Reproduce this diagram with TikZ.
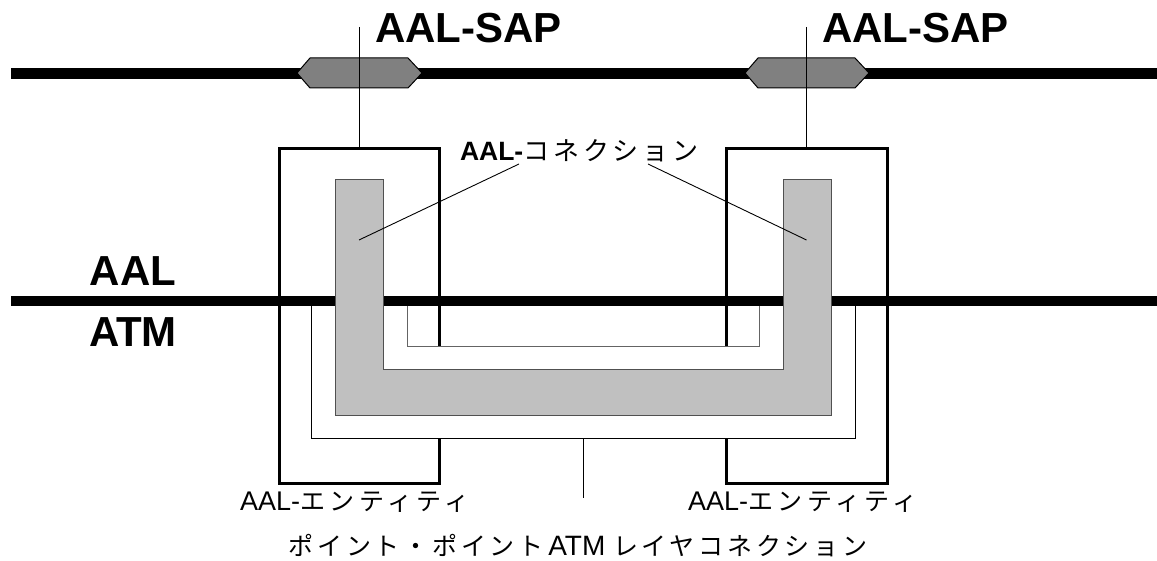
\documentclass[tikz,border=0pt]{standalone}
\usepackage{fontspec}
\setmainfont{Liberation Sans}
\newfontfamily\jpE[LetterSpace=18]{Noto Sans CJK JP}
\newfontfamily\jpC[LetterSpace=15]{Noto Sans CJK JP}
\newfontfamily\jpP[LetterSpace=15]{Noto Sans CJK JP}
\begin{document}
\begin{tikzpicture}[x=1pt,y=-1pt,
  layer/.style={line width=10.7pt},
  sapline/.style={line width=1pt},
  hexa/.style={fill={rgb,255:red,128;green,128;blue,128},draw=black,line width=1pt},
  entity/.style={draw=black,line width=3pt},
  conn/.style={fill={rgb,255:red,192;green,192;blue,192},draw={rgb,255:red,80;green,80;blue,80},line width=1pt},
  thin/.style={line width=1pt},
  leader/.style={line width=0.9pt},
  lbl/.style={inner sep=0pt,outer sep=0pt}]
\useasboundingbox (0,0) rectangle (1157,561);
% layer lines
\coordinate (t1) at (11,73.5); \coordinate (t2) at (1157,73.5);
\coordinate (m1) at (11,301); \coordinate (m2) at (1157,301);
\draw[layer] (t1) -- (t2);
\draw[layer] (m1) -- (m2);
% SAP hexagons
\draw[hexa] (297,73) -- (310,58) -- (408,58) -- (422,73) -- (408,88) -- (310,88) -- cycle;
\draw[hexa] (745,73) -- (758,58) -- (855,58) -- (869,73) -- (855,88) -- (758,88) -- cycle;
% entity boxes
\node[entity,lbl,minimum width=160.5pt,minimum height=334pt] (eL) at (359.25,316) {};
\node[entity,lbl,minimum width=160.5pt,minimum height=334pt] (eR) at (806.75,316) {};
% SAP lines
\coordinate (sL) at (359,27); \coordinate (sR) at (806.5,27);
\draw[sapline] (sL) -- (sL |- eL.north);
\draw[sapline] (sR) -- (sR |- eR.north);
% ATM layer connection (white U band)
\fill[white] (311.5,306.5) -- (311.5,438) -- (855,438) -- (855,306.5) -- (759,306.5) -- (759,346.5) -- (407,346.5) -- (407,306.5) -- cycle;
\draw[thin] (311.5,306.5) -- (311.5,438) -- (855,438) -- (855,306.5);
\draw[thin,draw={rgb,255:red,100;green,100;blue,100}] (407,306.5) -- (407,346.5) -- (759,346.5) -- (759,306.5);
% AAL connection (grey U)
\draw[conn] (335.5,180) -- (335.5,415.5) -- (831,415.5) -- (831,180) -- (783,180) -- (783,370) -- (383.5,370) -- (383.5,180) -- cycle;
% labels
\node[lbl,anchor=base west] (sapL) at (375,43) {\fontsize{42}{48}\selectfont\bfseries AAL-SAP};
\node[lbl,anchor=base west] (sapR) at (822,43) {\fontsize{42}{48}\selectfont\bfseries AAL-SAP};
\node[lbl,anchor=base] (aal) at (133,286) {\fontsize{42}{48}\selectfont\bfseries AAL};
\node[lbl,anchor=base] (atm) at (133,347) {\fontsize{42}{48}\selectfont\bfseries ATM};
\node[lbl,anchor=base west] (cn) at (460,160.7) {\fontsize{26.5}{30}\selectfont\bfseries AAL-{\jpC\mdseries\fontsize{26}{30}\selectfont コネクション}};
\node[lbl,anchor=base west] (enL) at (240,510) {\fontsize{27}{30}\selectfont AAL-{\jpE\fontsize{25}{30}\selectfont エンティティ}};
\node[lbl,anchor=base west] (enR) at (688,510) {\fontsize{27}{30}\selectfont AAL-{\jpE\fontsize{25}{30}\selectfont エンティティ}};
\node[lbl,anchor=base] (cap) at (578,555) {\fontsize{28}{30}\selectfont{\jpP\fontsize{25}{30}\selectfont ポイント・ポイント}\,ATM {\jpP\fontsize{25}{30}\selectfont レイヤコネクション}};
% leaders
\coordinate (cl) at (519,164); \coordinate (cr) at (648,164);
\coordinate (gl) at (359,240); \coordinate (gr) at (806.5,240);
\draw[leader] (cl) -- (gl);
\draw[leader] (cr) -- (gr);
\coordinate (ub) at (583.25,438); \coordinate (ue) at (583.25,498);
\draw[thin] (ub) -- (ue);
\end{tikzpicture}
\end{document}
